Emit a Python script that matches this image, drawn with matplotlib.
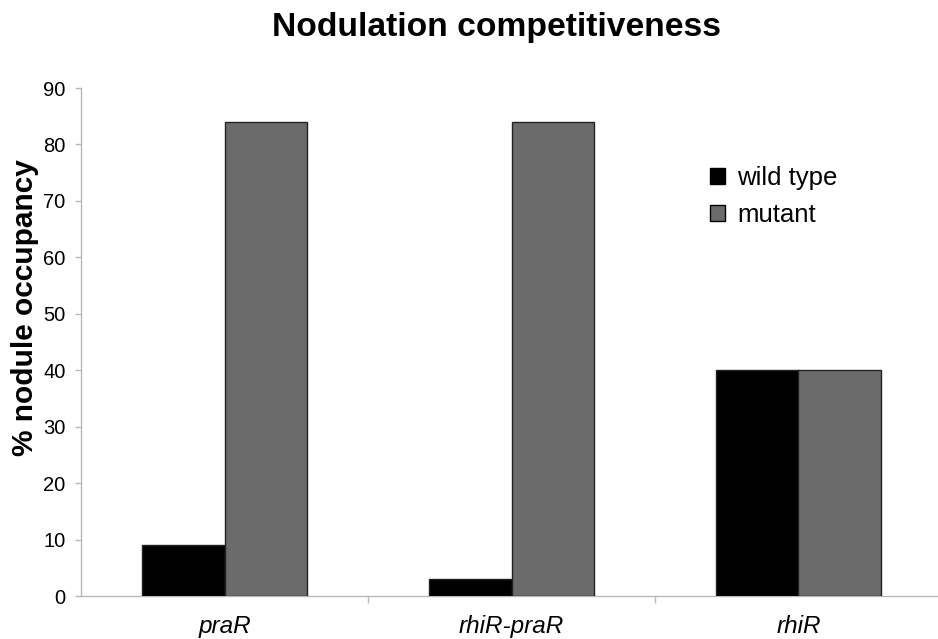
import matplotlib
matplotlib.use("Agg")
import matplotlib.pyplot as plt
import numpy as np

plt.rcParams['font.family'] = ['Liberation Sans', 'DejaVu Sans']

categories = ["praR", "rhiR-praR", "rhiR"]
wild_type = [9, 3, 40]
mutant = [84, 84, 40]
y_ticks = [0, 10, 20, 30, 40, 50, 60, 70, 80, 90]

W, H = 938, 639
fig = plt.figure(figsize=(W / 100, H / 100), dpi=100)
ax = fig.add_axes([81 / W, 43 / H, 861 / W, 508 / H])

x = np.arange(len(categories))
w = 0.286
ax.bar(x - w / 2, wild_type, w, color="black", edgecolor="#222222", linewidth=1.0,
       label="wild type", zorder=3)
ax.bar(x + w / 2, mutant, w, color="#6b6b6b", edgecolor="#222222", linewidth=1.0,
       label="mutant", zorder=3)

ax.set_xlim(-0.5, 2.5)
ax.set_ylim(0, 90)
ax.set_yticks(y_ticks)
ax.tick_params(axis='y', labelsize=14.5, colors="#b8b8b8", labelcolor="black",
               length=4, width=1, direction='out', pad=7)

# category boundaries carry the x ticks; labels sit at the centres
ax.set_xticks([0.5, 1.5])
ax.set_xticklabels([])
ax.tick_params(axis='x', colors="#b8b8b8", length=5, width=1, direction='out')
for xi, name in zip(x, categories):
    ax.text(xi, -6.6, name, ha='center', va='baseline', fontsize=17.5, style='italic')

for side in ("top", "right"):
    ax.spines[side].set_visible(False)
for side in ("left", "bottom"):
    ax.spines[side].set_color("#b8b8b8")
    ax.spines[side].set_linewidth(1.0)

fig.text(25 / W, 1 - 308 / H, "% nodule occupancy", rotation=90, ha='center',
         va='center', fontsize=21.5, fontweight='bold')
fig.text(496 / W, 1 - 36 / H, "Nodulation competitiveness", ha='center', va='baseline',
         fontsize=24.2, fontweight='bold')

leg = ax.legend(loc='upper left',
                bbox_to_anchor=((710 - 81) / 861, 1 - (166 - 88) / 508),
                bbox_transform=ax.transAxes, frameon=False, fontsize=18.5,
                handlelength=0.6, handleheight=0.6, handletextpad=0.45,
                labelspacing=0.5, borderaxespad=0, borderpad=0)
for h in leg.legend_handles:
    h.set_edgecolor("black")

fig.savefig("out.png", dpi=100)
